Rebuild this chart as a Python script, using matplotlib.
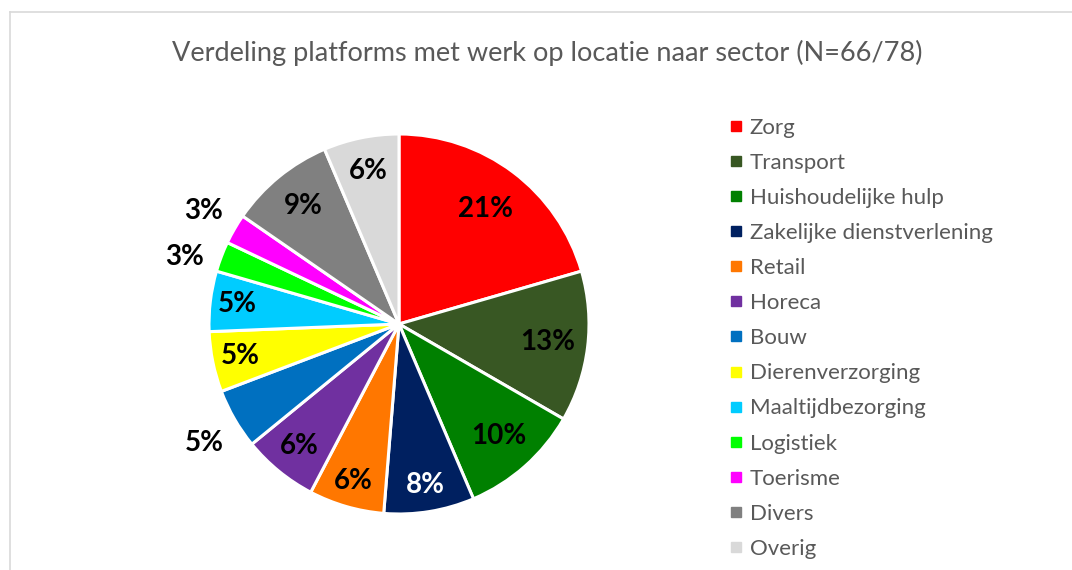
import matplotlib
matplotlib.use("Agg")
import matplotlib.pyplot as plt
from matplotlib.lines import Line2D
import numpy as np

# ---- data ----
categories = ["Zorg", "Transport", "Huishoudelijke hulp", "Zakelijke dienstverlening",
              "Retail", "Horeca", "Bouw", "Dierenverzorging", "Maaltijdbezorging",
              "Logistiek", "Toerisme", "Divers", "Overig"]
counts = [16, 10, 8, 6, 5, 5, 4, 4, 4, 2, 2, 7, 5]   # out of 78
title = "Verdeling platforms met werk op locatie naar sector (N=66/78)"

# ---- style ----
colors = ["#FF0000", "#385723", "#008000", "#002060", "#FF7700", "#7030A0",
          "#0070C0", "#FFFF00", "#00CCFF", "#00FF00", "#FF00FF", "#808080", "#D9D9D9"]
label_colors = ["black", "black", "black", "white"] + ["black"] * 9
label_r = [0.76, 0.79, 0.79, 0.86, 0.86, 0.83, 1.2, 0.85, 0.86, 1.18, 1.19, 0.80, 0.82]
label_dang = [0, 0, 0, 0, 0, 0, 1.5, 0, 0, 3.5, 0, 0, 0]
FONT = "Lato"
GREY = "#595959"

W, H = 1072, 570
fig = plt.figure(figsize=(W / 100, H / 100), dpi=100)

# chart border (light grey top & left lines)
fig.add_artist(Line2D([9.5 / W, 9.5 / W], [0, 1 - 11.5 / H], color="#D9D9D9", lw=1.2))
fig.add_artist(Line2D([9.5 / W, 1], [1 - 11.5 / H, 1 - 11.5 / H], color="#D9D9D9", lw=1.2))

cx, cy, r = 399, 324, 190
ax = fig.add_axes([(cx - r) / W, (H - cy - r) / H, 2 * r / W, 2 * r / H])
wedges, _ = ax.pie(counts, colors=colors, startangle=90, counterclock=False,
                   radius=1.0, wedgeprops=dict(edgecolor="white", linewidth=2.2))
ax.set_xlim(-1, 1)
ax.set_ylim(-1, 1)
ax.set_aspect("equal")
ax.axis("off")

total = sum(counts)
for w, c, rf, da, lc in zip(wedges, counts, label_r, label_dang, label_colors):
    ang = np.deg2rad((w.theta1 + w.theta2) / 2 + da)
    pct = round(100 * c / total)
    ax.text(rf * np.cos(ang), rf * np.sin(ang), f"{pct}%", ha="center", va="center",
            fontsize=20, fontweight="bold", color=lc, family=FONT, clip_on=False)

fig.text(547 / W, 1 - 53 / H, title, ha="center", va="center", fontsize=19.5,
         color=GREY, family=FONT)

handles = [Line2D([], [], marker="s", linestyle="none", markersize=6.5,
                  markerfacecolor=col, markeredgecolor=col) for col in colors]
leg = fig.legend(handles, categories, loc="upper left",
                 bbox_to_anchor=(731 / W, 1 - 117.5 / H), frameon=False,
                 prop=dict(family=FONT, size=16), labelcolor=GREY,
                 handlelength=0.45, handletextpad=0.4, labelspacing=0.68,
                 borderpad=0, borderaxespad=0)

fig.savefig("out.png", dpi=100)
